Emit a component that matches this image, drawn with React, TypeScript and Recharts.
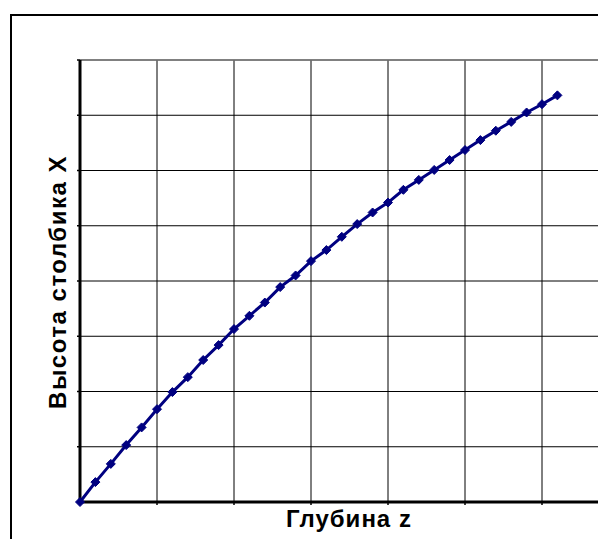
import { LineChart, Line, XAxis, YAxis, CartesianGrid, ReferenceLine } from "recharts";

// depth z (grid units), one point every 0.2
const depth = [
  0, 0.2, 0.4, 0.6, 0.8, 1.0, 1.2, 1.4, 1.6, 1.8, 2.0, 2.2, 2.4, 2.6, 2.8, 3.0,
  3.2, 3.4, 3.6, 3.8, 4.0, 4.2, 4.4, 4.6, 4.8, 5.0, 5.2, 5.4, 5.6, 5.8, 6.0, 6.2,
];

// column height X
const columnHeight = [
  0, 0.36, 0.69, 1.03, 1.35, 1.68, 1.99, 2.26, 2.57, 2.84, 3.13, 3.37, 3.61,
  3.89, 4.1, 4.36, 4.56, 4.8, 5.03, 5.24, 5.42, 5.65, 5.83, 6.01, 6.19, 6.37,
  6.55, 6.72, 6.88, 7.05, 7.2, 7.36,
];

const xTicks = [0, 1, 2, 3, 4, 5, 6, 7, 8];
const yTicks = [0, 1, 2, 3, 4, 5, 6, 7, 8];

const data = depth.map((z, i) => ({ z, x: columnHeight[i] }));

const NAVY = "#000080";

const Diamond = (props: any) => {
  const { cx, cy, index } = props;
  if (cx == null || cy == null) return <g key={`d-${index}`} />;
  const r = 4.5;
  return (
    <path
      key={`d-${index}`}
      d={`M${cx},${cy - r}L${cx + r},${cy}L${cx},${cy + r}L${cx - r},${cy}Z`}
      fill={NAVY}
      stroke={NAVY}
      strokeWidth={1}
    />
  );
};

const titleStyle: React.CSSProperties = {
  position: "absolute",
  fontFamily: "'Liberation Sans', Arial, sans-serif",
  fontWeight: "bold",
  fontSize: 24,
  color: "#000",
  whiteSpace: "nowrap",
};

export default function App() {
  return (
    <div
      style={{
        position: "relative",
        width: 598,
        height: 531,
        overflow: "hidden",
        background: "#fff",
      }}
    >
      <div
        style={{
          position: "absolute",
          left: 2,
          top: 6,
          width: 800,
          height: 800,
          border: "2px solid #000",
          boxSizing: "border-box",
        }}
      />
      <div style={{ position: "absolute", left: 0, top: 0 }}>
        <LineChart
          width={720}
          height={560}
          data={data}
          margin={{ top: 52, right: 32, left: 66, bottom: 60 }}
        >
          <CartesianGrid stroke="#000" strokeWidth={1} />
          <XAxis
            dataKey="z"
            type="number"
            domain={[0, 8]}
            ticks={xTicks}
            height={6}
            tickFormatter={() => ""}
            axisLine={{ stroke: "#000", strokeWidth: 3 }}
            tickLine={{ stroke: "#000", strokeWidth: 1.5 }}
            tickSize={3}
          />
          <YAxis
            type="number"
            domain={[0, 8]}
            ticks={yTicks}
            width={6}
            tickFormatter={() => ""}
            axisLine={{ stroke: "#000", strokeWidth: 3 }}
            tickLine={{ stroke: "#000", strokeWidth: 1.5 }}
            tickSize={3}
          />
          <ReferenceLine y={8} stroke="#808080" strokeWidth={1.5} />
          <Line
            type="linear"
            dataKey="x"
            stroke={NAVY}
            strokeWidth={3}
            dot={Diamond}
            activeDot={false}
            isAnimationActive={false}
          />
        </LineChart>
      </div>
      <div
        style={{
          ...titleStyle,
          letterSpacing: 1.5,
          left: 50,
          top: 274,
          transform: "translate(-50%, -50%) rotate(-90deg)",
        }}
      >
        Высота столбика X
      </div>
      <div
        style={{
          ...titleStyle,
          letterSpacing: 1,
          left: 341,
          top: 511,
          transform: "translate(-50%, -50%)",
        }}
      >
        Глубина z
      </div>
    </div>
  );
}
